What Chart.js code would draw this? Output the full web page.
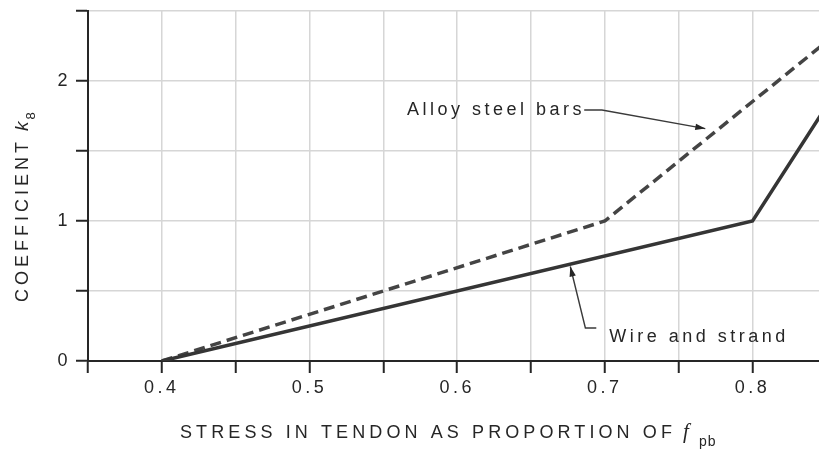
<!DOCTYPE html>
<html>
<head>
<meta charset="utf-8">
<title>Coefficient k8 against stress in tendon</title>
<script src="https://cdn.jsdelivr.net/npm/chart.js@4.4.1/dist/chart.umd.min.js"></script>
<style>
  html, body { margin: 0; padding: 0; background: #fff; }
  #wrap { width: 819px; height: 451px; }
</style>
</head>
<body>
<div id="wrap"><canvas id="chart" width="819" height="451"></canvas></div>
<script>
// stress in tendon as proportion of f_pb -> coefficient k8
const wireX = [0.4, 0.8, 0.85];
const wireK = [0, 1.0, 1.82];
const alloyX = [0.4, 0.7, 0.85];
const alloyK = [0, 1.0, 2.28];

const xTicks = [0.35, 0.4, 0.45, 0.5, 0.55, 0.6, 0.65, 0.7, 0.75, 0.8];
const xTickLabels = ['', '0.4', '', '0.5', '', '0.6', '', '0.7', '', '0.8'];
const yTicks = [0, 0.5, 1, 1.5, 2, 2.5];
const yTickLabels = ['0', '', '1', '', '2', ''];

const INK = '#262626';
const FONT = "'Liberation Sans', Arial, sans-serif";

// labels with leader lines, placed in data units
const notes = [
    { text: 'Alloy steel bars', at: [0.566, 1.79], leader: [[0.686, 1.793], [0.698, 1.793], [0.768, 1.66]] },
    { text: 'Wire and strand', at: [0.703, 0.171], leader: [[0.6942, 0.236], [0.6868, 0.236], [0.6766, 0.675]] }
];

function toPoints(xs, ys) {
    return xs.map((x, i) => ({ x: x, y: ys[i] }));
}

function arrowHead(ctx, from, to) {
    const ang = Math.atan2(to.y - from.y, to.x - from.x);
    const len = 10, half = 3.2;
    ctx.beginPath();
    ctx.moveTo(to.x, to.y);
    ctx.lineTo(to.x - len * Math.cos(ang) + half * Math.sin(ang), to.y - len * Math.sin(ang) - half * Math.cos(ang));
    ctx.lineTo(to.x - len * Math.cos(ang) - half * Math.sin(ang), to.y - len * Math.sin(ang) + half * Math.cos(ang));
    ctx.closePath();
    ctx.fill();
}

const trackingPlugin = {
    id: 'tracking',
    beforeDraw(chart) {
        chart.ctx.letterSpacing = '3.5px';
    },
    afterDraw(chart) {
        chart.ctx.letterSpacing = '0px';
    }
};

const notesPlugin = {
    id: 'notes',
    afterDatasetsDraw(chart) {
        const ctx = chart.ctx;
        const xs = chart.scales.x, ys = chart.scales.y;
        ctx.save();
        ctx.fillStyle = INK;
        ctx.strokeStyle = '#3a3a3a';
        ctx.lineWidth = 1.4;
        ctx.font = '18px ' + FONT;
        ctx.letterSpacing = '3.5px';
        ctx.textBaseline = 'middle';
        ctx.textAlign = 'left';
        notes.forEach(n => {
            ctx.fillText(n.text, xs.getPixelForValue(n.at[0]), ys.getPixelForValue(n.at[1]));
            const pts = n.leader.map(p => ({ x: xs.getPixelForValue(p[0]), y: ys.getPixelForValue(p[1]) }));
            ctx.beginPath();
            pts.forEach((p, i) => i ? ctx.lineTo(p.x, p.y) : ctx.moveTo(p.x, p.y));
            ctx.stroke();
            arrowHead(ctx, pts[pts.length - 2], pts[pts.length - 1]);
        });
        ctx.restore();
    }
};

const titlesPlugin = {
    id: 'titles',
    afterDraw(chart) {
        const ctx = chart.ctx;
        ctx.save();
        ctx.fillStyle = INK;
        ctx.textBaseline = 'alphabetic';
        ctx.textAlign = 'left';

        // x axis title
        ctx.font = '18px ' + FONT;
        ctx.letterSpacing = '4.1px';
        const xMain = 'STRESS IN TENDON AS PROPORTION OF';
        ctx.fillText(xMain, 180, 438);
        let w = ctx.measureText(xMain).width;
        ctx.letterSpacing = '0px';
        ctx.font = "italic 21px 'Liberation Serif', serif";
        ctx.fillText('f', 180 + w + 7, 438);
        ctx.font = '14px ' + FONT;
        ctx.letterSpacing = '1px';
        ctx.fillText('pb', 180 + w + 23, 446);

        // y axis title
        ctx.translate(28, 302);
        ctx.rotate(-Math.PI / 2);
        ctx.font = '18px ' + FONT;
        ctx.letterSpacing = '4px';
        const yMain = 'COEFFICIENT';
        ctx.fillText(yMain, 0, 0);
        w = ctx.measureText(yMain).width;
        ctx.letterSpacing = '0px';
        ctx.font = 'italic 19px ' + FONT;
        ctx.fillText('k', w + 7, 0);
        const kw = ctx.measureText('k').width;
        ctx.font = '13px ' + FONT;
        ctx.fillText('8', w + 7 + kw + 2, 7);
        ctx.restore();
    }
};

Chart.defaults.font.family = FONT;
Chart.defaults.font.size = 18;
Chart.defaults.color = INK;

new Chart(document.getElementById('chart'), {
    type: 'line',
    data: {
        datasets: [
            {
                label: 'Wire and strand',
                data: toPoints(wireX, wireK),
                borderColor: '#353535',
                borderWidth: 3.5,
                pointRadius: 0,
                tension: 0,
                fill: false
            },
            {
                label: 'Alloy steel bars',
                data: toPoints(alloyX, alloyK),
                borderColor: '#444',
                borderWidth: 3.5,
                borderDash: [11, 6],
                pointRadius: 0,
                tension: 0,
                fill: false
            }
        ]
    },
    options: {
        responsive: false,
        animation: false,
        devicePixelRatio: 1,
        layout: { padding: { top: 11, right: 0, bottom: 0, left: 0 } },
        plugins: {
            legend: { display: false },
            tooltip: { enabled: false }
        },
        scales: {
            x: {
                type: 'linear',
                min: 0.35,
                max: 0.845,
                afterBuildTicks(scale) {
                    scale.ticks = xTicks.map(v => ({ value: v }));
                },
                afterFit(scale) {
                    scale.height = 90;
                    scale.paddingLeft = 0;
                    scale.paddingRight = 0;
                },
                ticks: {
                    autoSkip: false,
                    maxRotation: 0,
                    padding: 4,
                    callback: (v, i) => xTickLabels[i]
                },
                grid: {
                    color: '#d6d6d6',
                    lineWidth: 1.5,
                    tickColor: INK,
                    tickWidth: 2,
                    tickLength: 12
                },
                border: { color: INK, width: 2 }
            },
            y: {
                type: 'linear',
                min: 0,
                max: 2.5,
                afterBuildTicks(scale) {
                    scale.ticks = yTicks.map(v => ({ value: v }));
                },
                afterFit(scale) {
                    scale.width = 88;
                    scale.paddingTop = 0;
                    scale.paddingBottom = 0;
                },
                ticks: {
                    autoSkip: false,
                    padding: 5,
                    callback: (v, i) => yTickLabels[i]
                },
                grid: {
                    color: '#d6d6d6',
                    lineWidth: 1.5,
                    tickColor: INK,
                    tickWidth: 2,
                    tickLength: 12
                },
                border: { color: INK, width: 2 }
            }
        }
    },
    plugins: [trackingPlugin, notesPlugin, titlesPlugin]
});
</script>
</body>
</html>
